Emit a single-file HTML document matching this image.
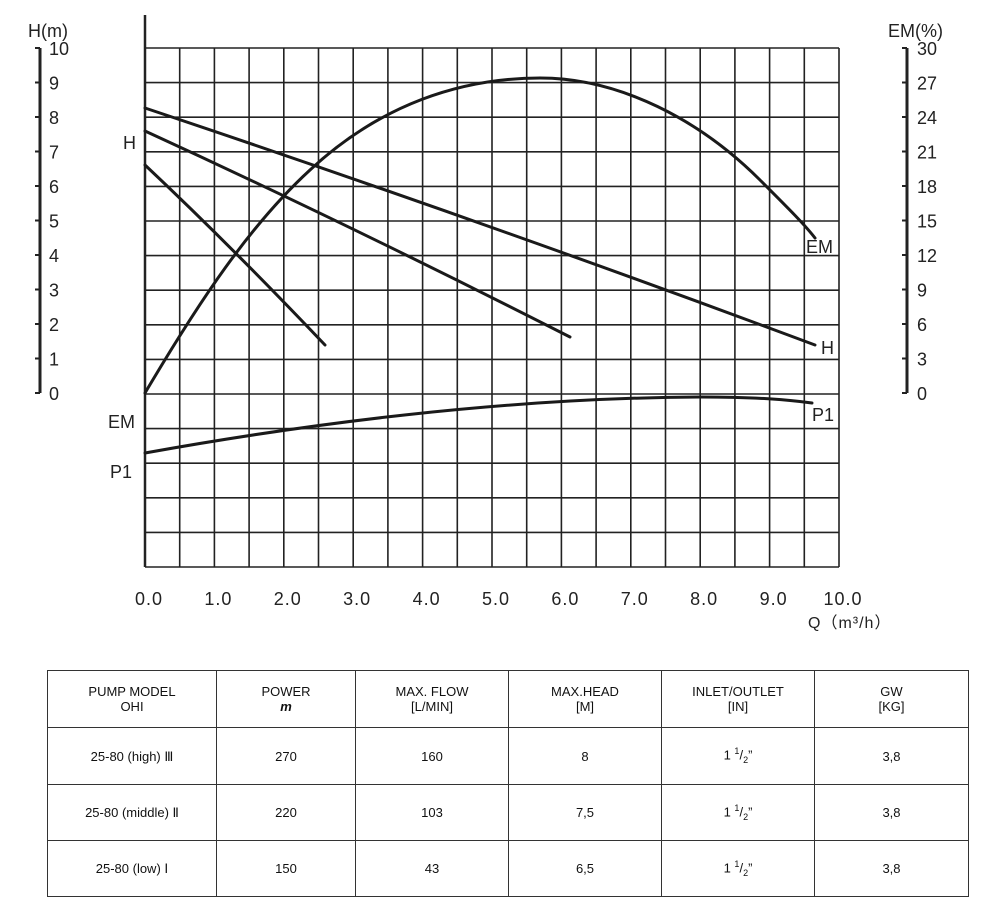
<!DOCTYPE html>
<html><head><style>
body{margin:0;background:#fff;width:1000px;height:916px;overflow:hidden;font-family:"Liberation Sans",sans-serif}
table{position:absolute;left:47px;top:670px;border-collapse:collapse;font-family:"Liberation Sans",sans-serif;font-size:13px;color:#111}
td{border:1.5px solid #333;text-align:center;vertical-align:middle;padding:0;line-height:15px}
</style></head><body>
<svg width="1000" height="660" style="position:absolute;left:0;top:0" font-family="Liberation Sans, sans-serif" fill="#222">
<path stroke="#222" stroke-width="1.6" fill="none" d="
M145,48V567M179.7,48V567M214.4,48V567M249.1,48V567M283.8,48V567M318.5,48V567M353.2,48V567M387.9,48V567M422.6,48V567M457.3,48V567M492,48V567M526.7,48V567M561.4,48V567M596.1,48V567M630.8,48V567M665.5,48V567M700.2,48V567M734.9,48V567M769.6,48V567M804.3,48V567M839,48V567
M145,48H839M145,82.6H839M145,117.2H839M145,151.8H839M145,186.4H839M145,221H839M145,255.6H839M145,290.2H839M145,324.8H839M145,359.4H839M145,394H839M145,428.6H839M145,463.2H839M145,497.8H839M145,532.4H839M145,567H839"/>
<line x1="145" y1="15" x2="145" y2="567" stroke="#222" stroke-width="2.5"/>
<g fill="none" stroke="#1a1a1a" stroke-width="3" stroke-linecap="round">
<path d="M145,108 Q480,220 815,345"/>
<path d="M145,131 Q350,225 570,337"/>
<path d="M145,165 Q230,245 325,345"/>
<path d="M145,393 C200,300 250,225 310,170 C380,105 460,78 540,78 C620,78 700,120 760,180 C790,210 805,225 815,238"/>
<path d="M145,453 C300,425 500,398 700,397 C760,397 790,400 812,403"/>
</g>
<g stroke="#222" stroke-width="3"><line x1="40" y1="48" x2="40" y2="393"/><line x1="907" y1="48" x2="907" y2="393"/></g>
<path stroke="#222" stroke-width="2" d="M35,48h5M35,82.5h5M35,117h5M35,151.5h5M35,186h5M35,220.5h5M35,255h5M35,289.5h5M35,324h5M35,358.5h5M35,393h5M902,48h5M902,82.5h5M902,117h5M902,151.5h5M902,186h5M902,220.5h5M902,255h5M902,289.5h5M902,324h5M902,358.5h5M902,393h5"/>
<g font-size="18">
<text x="49" y="55">10</text><text x="49" y="89.5">9</text><text x="49" y="124">8</text><text x="49" y="158.5">7</text><text x="49" y="193">6</text><text x="49" y="227.5">5</text><text x="49" y="262">4</text><text x="49" y="296.5">3</text><text x="49" y="331">2</text><text x="49" y="365.5">1</text><text x="49" y="400">0</text>
<text x="917" y="55">30</text><text x="917" y="89.5">27</text><text x="917" y="124">24</text><text x="917" y="158.5">21</text><text x="917" y="193">18</text><text x="917" y="227.5">15</text><text x="917" y="262">12</text><text x="917" y="296.5">9</text><text x="917" y="331">6</text><text x="917" y="365.5">3</text><text x="917" y="400">0</text>
</g>
<g font-size="18" text-anchor="middle" letter-spacing="1">
<text x="149" y="605">0.0</text><text x="218.4" y="605">1.0</text><text x="287.8" y="605">2.0</text><text x="357.2" y="605">3.0</text><text x="426.6" y="605">4.0</text><text x="496" y="605">5.0</text><text x="565.4" y="605">6.0</text><text x="634.8" y="605">7.0</text><text x="704.2" y="605">8.0</text><text x="773.6" y="605">9.0</text><text x="843" y="605">10.0</text>
</g>
<g font-size="18">
<text x="28" y="37">H(m)</text>
<text x="888" y="37">EM(%)</text>
<text x="123" y="149">H</text>
<text x="108" y="428">EM</text>
<text x="110" y="478">P1</text>
<text x="806" y="253">EM</text>
<text x="821" y="354">H</text>
<text x="812" y="421">P1</text>
<text x="808" y="628" font-size="16" letter-spacing="1">Q（m³/h）</text>
</g>
</svg>
<table>
<tr style="height:57px"><td style="width:168px">PUMP MODEL<br>OHI</td><td style="width:138px">POWER<br><b><i>m</i></b></td><td style="width:152px">MAX. FLOW<br>[L/MIN]</td><td style="width:152px">MAX.HEAD<br>[M]</td><td style="width:152px">INLET/OUTLET<br>[IN]</td><td style="width:153px">GW<br>[KG]</td></tr>
<tr style="height:57px"><td>25-80 (high) Ⅲ</td><td>270</td><td>160</td><td>8</td><td>1 <sup style="font-size:9px">1</sup>/<sub style="font-size:9px">2</sub>”</td><td>3,8</td></tr>
<tr style="height:56px"><td>25-80 (middle) Ⅱ</td><td>220</td><td>103</td><td>7,5</td><td>1 <sup style="font-size:9px">1</sup>/<sub style="font-size:9px">2</sub>”</td><td>3,8</td></tr>
<tr style="height:56px"><td>25-80 (low) Ⅰ</td><td>150</td><td>43</td><td>6,5</td><td>1 <sup style="font-size:9px">1</sup>/<sub style="font-size:9px">2</sub>”</td><td>3,8</td></tr>
</table>
</body></html>
